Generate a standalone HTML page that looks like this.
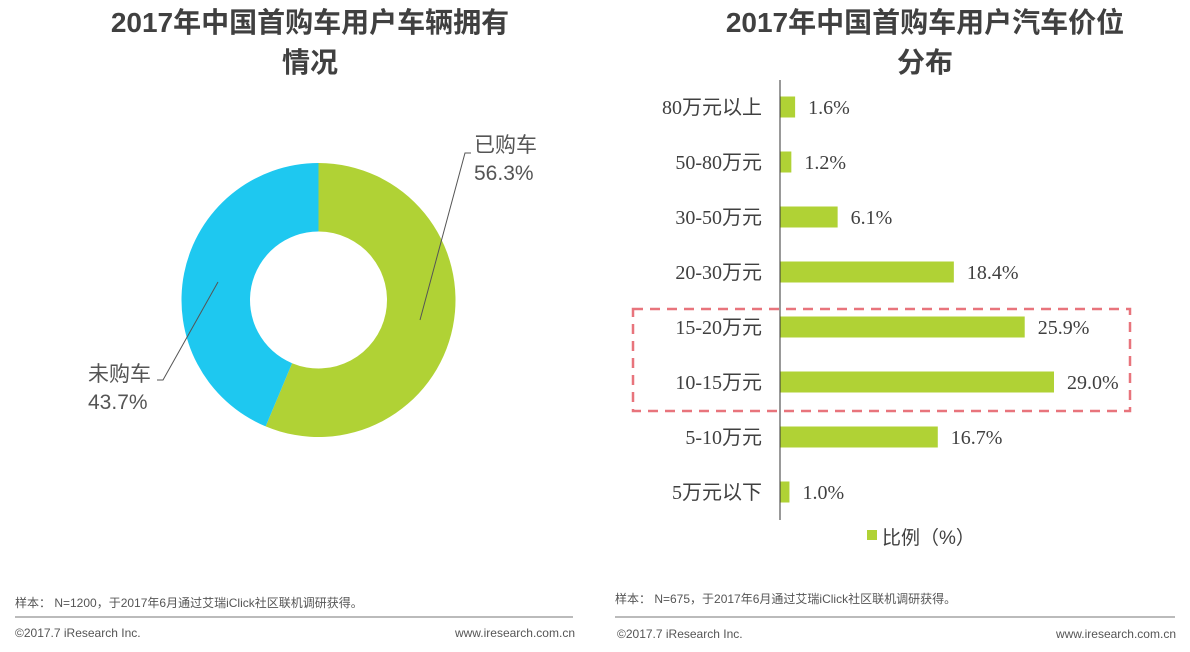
<!DOCTYPE html>
<html><head><meta charset="utf-8"><style>
body{margin:0;background:#fff;width:1190px;height:647px;overflow:hidden;font-family:"Liberation Sans","Noto Sans CJK SC",sans-serif;}
svg text{font-family:"Liberation Sans","Noto Sans CJK SC",sans-serif;}
svg text.serif{font-family:"Liberation Serif","Noto Sans CJK SC",serif;}
</style></head><body>
<svg width="1190" height="647">
<g id="titles" fill="#404040" font-weight="bold" font-size="28" text-anchor="middle">
<text x="310" y="32">2017年中国首购车用户车辆拥有</text>
<text x="310" y="72">情况</text>
<text x="925" y="32">2017年中国首购车用户汽车价位</text>
<text x="925" y="72">分布</text>
</g>
<g id="donut"></g>
<g id="bars"></g>
<rect x="633" y="309" width="497" height="102" fill="none" stroke="#e8747c" stroke-width="2.5" stroke-dasharray="10,7"/>
<line x1="780" y1="80" x2="780" y2="520" stroke="#333" stroke-width="1"/>
<rect x="867" y="530" width="10" height="10" fill="#b0d235"/>
<text x="882" y="544" font-size="19" fill="#404040">比例（%）</text>
<g fill="#555" font-size="12">
<text x="15" y="607">样本： N=1200，于2017年6月通过艾瑞iClick社区联机调研获得。</text>
<text x="615" y="603">样本： N=675，于2017年6月通过艾瑞iClick社区联机调研获得。</text>
<text x="15" y="637">©2017.7 iResearch Inc.</text>
<text x="575" y="637" text-anchor="end">www.iresearch.com.cn</text>
<text x="617" y="638">©2017.7 iResearch Inc.</text>
<text x="1176" y="638" text-anchor="end">www.iresearch.com.cn</text>
</g>
<line x1="15" y1="617" x2="573" y2="617" stroke="#777"/>
<line x1="615" y1="617" x2="1175" y2="617" stroke="#777"/>
</svg>
<script>
const pieLabels=["已购车","未购车"];
const pieValues=[56.3,43.7];
const pieColors=["#b0d235","#1ec8f0"];
const categories=["80万元以上","50-80万元","30-50万元","20-30万元","15-20万元","10-15万元","5-10万元","5万元以下"];
const values=[1.6,1.2,6.1,18.4,25.9,29.0,16.7,1.0];
const NS="http://www.w3.org/2000/svg";
function mk(tag,attrs,parent){const e=document.createElementNS(NS,tag);for(const k in attrs)e.setAttribute(k,attrs[k]);parent.appendChild(e);return e;}
const cx=318.5,cy=300,R=137,r=68.5;
const dg=document.getElementById('donut');
const total=pieValues.reduce((a,b)=>a+b,0);
let a0=-Math.PI/2;
const pt=(ang,rad)=>[cx+rad*Math.cos(ang),cy+rad*Math.sin(ang)];
pieValues.forEach((v,i)=>{
  const a1=a0+v/total*2*Math.PI;
  const large=(a1-a0)>Math.PI?1:0;
  const [x0,y0]=pt(a0,R),[x1,y1]=pt(a1,R),[x2,y2]=pt(a1,r),[x3,y3]=pt(a0,r);
  const p=mk('path',{d:`M${x0},${y0}A${R},${R} 0 ${large} 1 ${x1},${y1}L${x2},${y2}A${r},${r} 0 ${large} 0 ${x3},${y3}Z`,fill:pieColors[i]},dg);
  
  
  a0=a1;
});
const l1=mk('polyline',{points:"420,320 465,153 471,153",fill:"none",stroke:"#555","stroke-width":1},dg);


const l2=mk('polyline',{points:"218,282 163,380 157,380",fill:"none",stroke:"#555","stroke-width":1},dg);


[[474,152,pieLabels[0]],[474,180,pieValues[0].toFixed(1)+"%"],[88,381,pieLabels[1]],[88,409,pieValues[1].toFixed(1)+"%"]].forEach((d,i)=>{
  const t=mk('text',{x:d[0],y:d[1],"font-size":21,fill:"#555"},dg);t.textContent=d[2];
  
  
});
const bg=document.getElementById('bars');
const x0=780,scale=274/29.0;
const xs=v=>x0+v*scale;
const yc=i=>107+i*55;
categories.forEach((c,i)=>{
  const b=mk('rect',{x:x0,y:yc(i)-10.5,width:xs(values[i])-x0,height:21,fill:"#b0d235"},bg);
  
  
  const t=mk('text',{x:762,y:yc(i)+7,"text-anchor":"end","font-size":20,fill:"#404040",class:"serif"},bg);
  t.textContent=c;
  
  
  const v=mk('text',{x:xs(values[i])+13,y:yc(i)+7,"font-size":20,fill:"#404040",class:"serif"},bg);
  v.textContent=values[i].toFixed(1)+"%";
  
  
});
</script>
</body></html>
